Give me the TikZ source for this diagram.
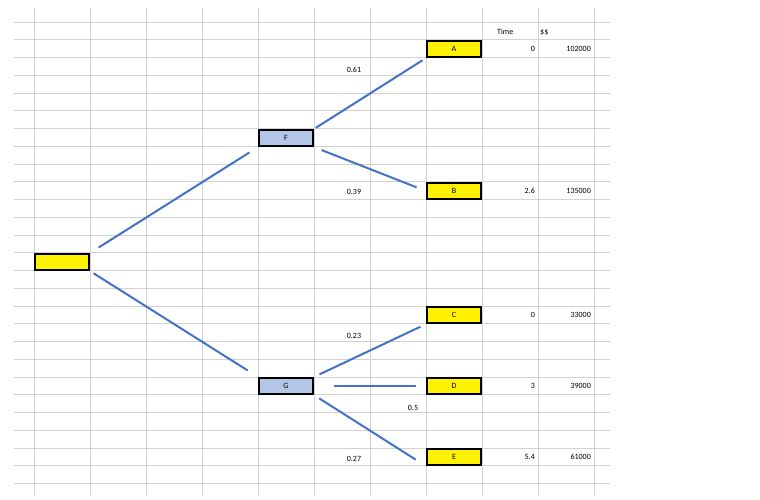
\documentclass[tikz,border=0pt]{standalone}
\usepackage{fontspec}
\setmainfont{Carlito}
\begin{document}
\begin{tikzpicture}[x=1pt,y=-1pt,
 box/.style={draw=black,line width=2.2pt,minimum width=54pt,minimum height=16pt,inner sep=0pt},
 yb/.style={box,fill=yellow},
 bb/.style={box,fill=blue!25!gray!40!white,fill={rgb,255:red,180;green,198;blue,231}},
 lab/.style={font=\fontsize{8}{9}\selectfont,inner sep=0pt},
 con/.style={draw={rgb,255:red,68;green,114;blue,196},line width=2pt}]
\useasboundingbox (0,0) rectangle (760,499);
\foreach \x in {34,90,146,202,258,314,370,426,482,538,594} \draw[gray!35,line width=0.8pt] (\x,8) -- (\x,495);
\foreach \i in {0,...,26} \draw[gray!35,line width=0.8pt] (14,22+17.75*\i) -- (610,22+17.75*\i);
\node[yb] (R) at (62,262) {};
\node[bb] (F) at (286,138) {};
\node[bb] (G) at (286,386) {};
\node[yb] (A) at (454,49) {};
\node[yb] (B) at (454,191) {};
\node[yb] (C) at (454,315) {};
\node[yb] (D) at (454,386) {};
\node[yb] (E) at (454,457) {};
\draw[con,shorten <=10pt,shorten >=10pt] (R.north east) -- (F.south west);
\draw[con,shorten <=4pt,shorten >=12pt] (R.south east) -- (G.north west);
\draw[con,shorten <=2pt,shorten >=4pt] (F.north east) -- (A.south west);
\draw[con,shorten <=8pt,shorten >=10pt] (F.south east) -- (B.west);
\draw[con,shorten <=6pt,shorten >=6pt] (G.north east) -- (C.south west);
\draw[con,shorten <=20pt,shorten >=10pt] (G.east) -- (D.west);
\draw[con,shorten <=6pt,shorten >=12pt] (G.south east) -- (E.south west);
\foreach \n/\t in {F/F,G/G,A/A,B/B,C/C,D/D,E/E} \node[lab] at ([yshift=9pt]\n.south) {\t};
\node[lab] (p1) at (354,70) {0.61};
\node[lab] (p2) at (354,192) {0.39};
\node[lab] (p3) at (354,336) {0.23};
\node[lab] (p4) at (413,408) {0.5};
\node[lab] (p5) at (354,459) {0.27};
\node[lab,anchor=west] (t) at (497,32) {Time};
\node[lab,anchor=west] (d) at (540,32) {\$\$};
\foreach \y/\a/\b in {49/0/102000,191/2.6/135000,315/0/33000,386/3/39000,457/5.4/61000}{
 \node[lab,anchor=east] at (535,\y) {\a};
 \node[lab,anchor=east] at (591,\y) {\b};}
\end{tikzpicture}
\end{document}
